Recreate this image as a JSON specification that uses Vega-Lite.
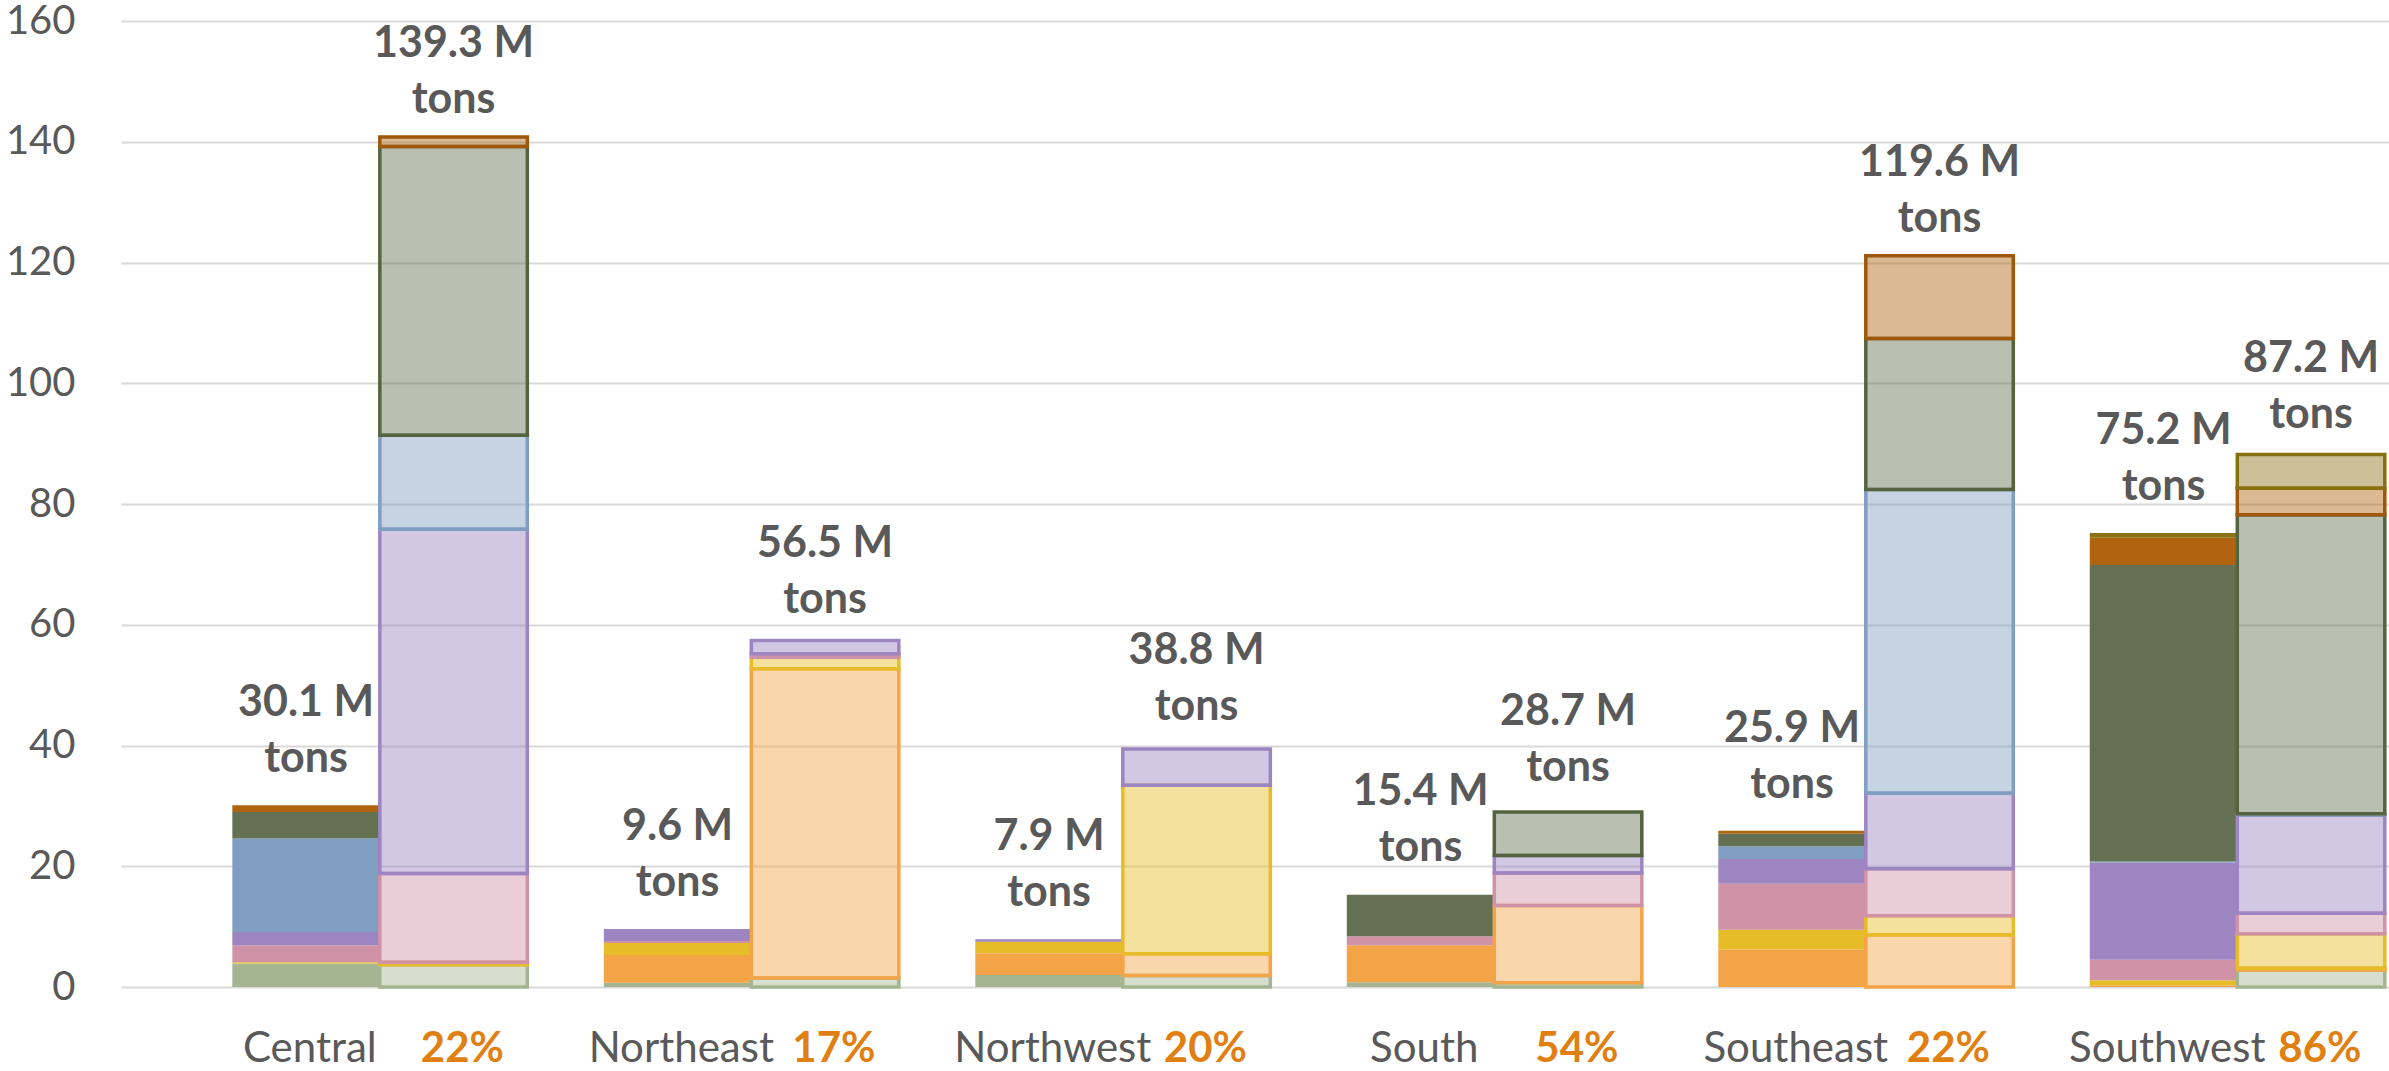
{
  "$schema": "https://vega.github.io/schema/vega-lite/v6.json",
  "width": 2268,
  "height": 966,
  "autosize": {"type": "none"},
  "padding": {"left": 121, "top": 21, "right": 0, "bottom": 84},
  "background": "white",
  "config": {"view": {"stroke": null}, "font": "Lato"},
  "datasets": {
    "seg": [
      {"region": "Central", "kind": "solid", "src": "s1", "value": 3.9},
      {"region": "Central", "kind": "solid", "src": "s3", "value": 0.2},
      {"region": "Central", "kind": "solid", "src": "s4", "value": 2.8},
      {"region": "Central", "kind": "solid", "src": "s5", "value": 2.2},
      {"region": "Central", "kind": "solid", "src": "s6", "value": 15.5},
      {"region": "Central", "kind": "solid", "src": "s7", "value": 4.4},
      {"region": "Central", "kind": "solid", "src": "s8", "value": 1.1},
      {"region": "Central", "kind": "hatched", "src": "s1", "value": 3.7},
      {"region": "Central", "kind": "hatched", "src": "s3", "value": 0.4},
      {"region": "Central", "kind": "hatched", "src": "s4", "value": 14.7},
      {"region": "Central", "kind": "hatched", "src": "s5", "value": 57.0},
      {"region": "Central", "kind": "hatched", "src": "s6", "value": 15.6},
      {"region": "Central", "kind": "hatched", "src": "s7", "value": 47.8},
      {"region": "Central", "kind": "hatched", "src": "s8", "value": 1.6},
      {"region": "Northeast", "kind": "solid", "src": "s1", "value": 0.7},
      {"region": "Northeast", "kind": "solid", "src": "s2", "value": 4.6},
      {"region": "Northeast", "kind": "solid", "src": "s3", "value": 2.0},
      {"region": "Northeast", "kind": "solid", "src": "s4", "value": 0.3},
      {"region": "Northeast", "kind": "solid", "src": "s5", "value": 2.0},
      {"region": "Northeast", "kind": "hatched", "src": "s1", "value": 1.5},
      {"region": "Northeast", "kind": "hatched", "src": "s2", "value": 51.2},
      {"region": "Northeast", "kind": "hatched", "src": "s3", "value": 1.9},
      {"region": "Northeast", "kind": "hatched", "src": "s4", "value": 0.6},
      {"region": "Northeast", "kind": "hatched", "src": "s5", "value": 2.2},
      {"region": "Northwest", "kind": "solid", "src": "s1", "value": 2.0},
      {"region": "Northwest", "kind": "solid", "src": "s2", "value": 3.6},
      {"region": "Northwest", "kind": "solid", "src": "s3", "value": 1.9},
      {"region": "Northwest", "kind": "solid", "src": "s5", "value": 0.4},
      {"region": "Northwest", "kind": "hatched", "src": "s1", "value": 1.9},
      {"region": "Northwest", "kind": "hatched", "src": "s2", "value": 3.6},
      {"region": "Northwest", "kind": "hatched", "src": "s3", "value": 27.9},
      {"region": "Northwest", "kind": "hatched", "src": "s5", "value": 6.0},
      {"region": "South", "kind": "solid", "src": "s1", "value": 0.8},
      {"region": "South", "kind": "solid", "src": "s2", "value": 6.1},
      {"region": "South", "kind": "solid", "src": "s4", "value": 1.5},
      {"region": "South", "kind": "solid", "src": "s7", "value": 6.9},
      {"region": "South", "kind": "hatched", "src": "s1", "value": 0.7},
      {"region": "South", "kind": "hatched", "src": "s2", "value": 12.8},
      {"region": "South", "kind": "hatched", "src": "s4", "value": 5.4},
      {"region": "South", "kind": "hatched", "src": "s5", "value": 2.9},
      {"region": "South", "kind": "hatched", "src": "s7", "value": 7.2},
      {"region": "Southeast", "kind": "solid", "src": "s2", "value": 6.2},
      {"region": "Southeast", "kind": "solid", "src": "s3", "value": 3.3},
      {"region": "Southeast", "kind": "solid", "src": "s4", "value": 7.6},
      {"region": "Southeast", "kind": "solid", "src": "s5", "value": 4.1},
      {"region": "Southeast", "kind": "solid", "src": "s6", "value": 2.1},
      {"region": "Southeast", "kind": "solid", "src": "s7", "value": 2.1},
      {"region": "Southeast", "kind": "solid", "src": "s8", "value": 0.5},
      {"region": "Southeast", "kind": "hatched", "src": "s2", "value": 8.6},
      {"region": "Southeast", "kind": "hatched", "src": "s3", "value": 3.2},
      {"region": "Southeast", "kind": "hatched", "src": "s4", "value": 7.8},
      {"region": "Southeast", "kind": "hatched", "src": "s5", "value": 12.5},
      {"region": "Southeast", "kind": "hatched", "src": "s6", "value": 50.3},
      {"region": "Southeast", "kind": "hatched", "src": "s7", "value": 25.0},
      {"region": "Southeast", "kind": "hatched", "src": "s8", "value": 13.7},
      {"region": "Southwest", "kind": "solid", "src": "s2", "value": 0.3},
      {"region": "Southwest", "kind": "solid", "src": "s3", "value": 0.8},
      {"region": "Southwest", "kind": "solid", "src": "s4", "value": 3.4},
      {"region": "Southwest", "kind": "solid", "src": "s5", "value": 16.1},
      {"region": "Southwest", "kind": "solid", "src": "s6", "value": 0.2},
      {"region": "Southwest", "kind": "solid", "src": "s7", "value": 49.1},
      {"region": "Southwest", "kind": "solid", "src": "s8", "value": 4.5},
      {"region": "Southwest", "kind": "solid", "src": "s9", "value": 0.8},
      {"region": "Southwest", "kind": "hatched", "src": "s1", "value": 2.8},
      {"region": "Southwest", "kind": "hatched", "src": "s2", "value": 0.3},
      {"region": "Southwest", "kind": "hatched", "src": "s3", "value": 5.7},
      {"region": "Southwest", "kind": "hatched", "src": "s4", "value": 3.4},
      {"region": "Southwest", "kind": "hatched", "src": "s5", "value": 16.3},
      {"region": "Southwest", "kind": "hatched", "src": "s6", "value": 0.2},
      {"region": "Southwest", "kind": "hatched", "src": "s7", "value": 49.5},
      {"region": "Southwest", "kind": "hatched", "src": "s8", "value": 4.4},
      {"region": "Southwest", "kind": "hatched", "src": "s9", "value": 5.6}
    ],
    "totals": [
      {"region": "Central", "kind": "solid", "total": 30.1, "label": "30.1 M\ntons"},
      {"region": "Central", "kind": "hatched", "total": 139.3, "label": "139.3 M\ntons"},
      {"region": "Northeast", "kind": "solid", "total": 9.6, "label": "9.6 M\ntons"},
      {"region": "Northeast", "kind": "hatched", "total": 56.5, "label": "56.5 M\ntons"},
      {"region": "Northwest", "kind": "solid", "total": 7.9, "label": "7.9 M\ntons"},
      {"region": "Northwest", "kind": "hatched", "total": 38.8, "label": "38.8 M\ntons"},
      {"region": "South", "kind": "solid", "total": 15.4, "label": "15.4 M\ntons"},
      {"region": "South", "kind": "hatched", "total": 28.7, "label": "28.7 M\ntons"},
      {"region": "Southeast", "kind": "solid", "total": 25.9, "label": "25.9 M\ntons"},
      {"region": "Southeast", "kind": "hatched", "total": 119.6, "label": "119.6 M\ntons"},
      {"region": "Southwest", "kind": "solid", "total": 75.2, "label": "75.2 M\ntons"},
      {"region": "Southwest", "kind": "hatched", "total": 87.2, "label": "87.2 M\ntons"}
    ],
    "regions": [
      {"region": "Central", "pct": "22%"},
      {"region": "Northeast", "pct": "17%"},
      {"region": "Northwest", "pct": "20%"},
      {"region": "South", "pct": "54%"},
      {"region": "Southeast", "pct": "22%"},
      {"region": "Southwest", "pct": "86%"}
    ]
  },
  "encoding": {
    "x": {
      "field": "region",
      "type": "nominal",
      "scale": {
        "domain": ["Central", "Northeast", "Northwest", "South", "Southeast", "Southwest"],
        "paddingInner": 0.2059,
        "paddingOuter": 0.1555,
        "align": 0.9636
      },
      "axis": null
    }
  },
  "layer": [
    {
      "data": {"name": "seg"},
      "transform": [
        {"stack": "value", "groupby": ["region", "kind"], "sort": [{"field": "src", "order": "ascending"}], "as": ["v0", "v1"]},
        {"filter": "datum.kind === 'solid'"}
      ],
      "mark": {"type": "bar"},
      "encoding": {
        "xOffset": {"field": "kind", "type": "nominal", "scale": {"domain": ["solid", "hatched"], "paddingInner": 0, "paddingOuter": 0}},
        "y": {
          "field": "v0",
          "type": "quantitative",
          "title": null,
          "scale": {"domain": [0, 160], "nice": false},
          "axis": {
            "values": [0, 20, 40, 60, 80, 100, 120, 140, 160],
            "grid": true,
            "gridColor": "#D9D9D9",
            "gridWidth": 2,
            "domain": false,
            "ticks": false,
            "labelPadding": 46,
            "labelFontSize": 40,
            "labelColor": "#595959",
            "labelFont": "Lato",
            "title": null
          }
        },
        "y2": {"field": "v1"},
        "fill": {
          "field": "src",
          "type": "nominal",
          "scale": {
            "domain": ["s1", "s2", "s3", "s4", "s5", "s6", "s7", "s8", "s9"],
            "range": ["#A5B592", "#F3A447", "#E7BC29", "#D092A7", "#9C85C0", "#809EC2", "#637052", "#B0640F", "#8C7318"]
          },
          "legend": null
        }
      }
    },
    {
      "data": {"name": "seg"},
      "transform": [
        {"stack": "value", "groupby": ["region", "kind"], "sort": [{"field": "src", "order": "ascending"}], "as": ["v0", "v1"]},
        {"filter": "datum.kind === 'hatched'"}
      ],
      "mark": {"type": "bar", "fillOpacity": 0.45, "strokeWidth": 3.5},
      "encoding": {
        "xOffset": {"field": "kind", "type": "nominal"},
        "y": {"field": "v0", "type": "quantitative", "title": null},
        "y2": {"field": "v1"},
        "fill": {"field": "src", "type": "nominal", "legend": null},
        "stroke": {
          "field": "src",
          "type": "nominal",
          "scale": {
            "domain": ["s1", "s2", "s3", "s4", "s5", "s6", "s7", "s8", "s9"],
            "range": ["#A5B592", "#F3A447", "#E7BC29", "#D092A7", "#9C85C0", "#809EC2", "#56633F", "#9E570B", "#86700F"]
          },
          "legend": null
        }
      }
    },
    {
      "data": {"name": "totals"},
      "mark": {"type": "text", "font": "Lato", "fontWeight": "bold", "fontSize": 43, "color": "#595959", "lineBreak": "\n", "lineHeight": 56, "baseline": "bottom", "align": "center", "dy": -80},
      "encoding": {
        "xOffset": {"field": "kind", "type": "nominal"},
        "y": {"field": "total", "type": "quantitative", "title": null},
        "text": {"field": "label"}
      }
    },
    {
      "data": {"name": "regions"},
      "mark": {"type": "text", "font": "Lato", "fontSize": 42, "color": "#595959", "baseline": "alphabetic", "align": "center", "dx": -70, "dy": 75},
      "encoding": {
        "y": {"datum": 0, "type": "quantitative"},
        "text": {"field": "region"}
      }
    },
    {
      "data": {"name": "regions"},
      "mark": {"type": "text", "font": "Lato", "fontSize": 42, "fontWeight": "bold", "color": "#E07F12", "baseline": "alphabetic", "align": "left", "dx": 41, "dy": 75},
      "encoding": {
        "y": {"datum": 0, "type": "quantitative"},
        "text": {"field": "pct"}
      }
    }
  ]
}
